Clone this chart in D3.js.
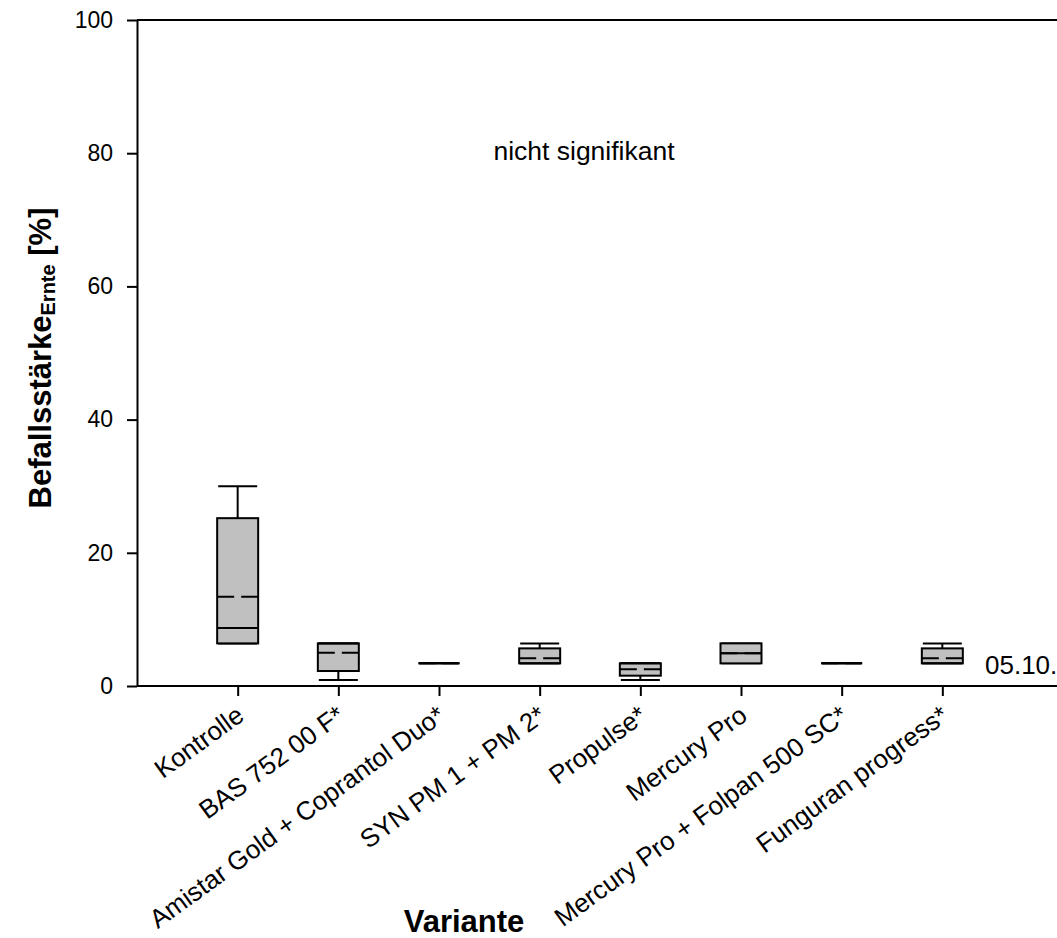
<!DOCTYPE html>
<html>
<head>
<meta charset="utf-8">
<script src="https://cdn.jsdelivr.net/npm/d3@7"></script>
<style>
  html, body { margin: 0; padding: 0; background: #fff; }
  svg { display: block; font-family: Arial, "Liberation Sans", sans-serif; }
</style>
</head>
<body>
<svg id="chart" width="1057" height="938"></svg>
<script>
// ---- data ----
const categories = ["Kontrolle", "BAS 752 00 F*", "Amistar Gold + Coprantol Duo*", "SYN PM 1 + PM 2*",
  "Propulse*", "Mercury Pro", "Mercury Pro + Folpan 500 SC*", "Funguran progress*"];
const whiskerLow  = [6.4, 0.9, 3.4, 3.4, 0.9, 3.4, 3.4, 3.4];
const q1          = [6.4, 2.25, 3.4, 3.4, 1.55, 3.4, 3.4, 3.4];
const median      = [8.7, 6.4, 3.4, 3.4, 3.4, 4.9, 3.4, 3.4];
const q3          = [25.2, 6.4, 3.4, 5.65, 3.4, 6.4, 3.4, 5.65];
const whiskerHigh = [30, 6.4, 3.4, 6.4, 3.4, 6.4, 3.4, 6.4];
const mean        = [13.4, 5.0, 3.4, 4.15, 2.5, 4.9, 3.4, 4.15];
const yTicks = [0, 20, 40, 60, 80, 100];
const annotation = "nicht signifikant";
const dateLabel = "05.10.";

(function () {
const rows = categories.map((c, i) => ({
  cat: c, lo: whiskerLow[i], q1: q1[i], med: median[i], q3: q3[i], hi: whiskerHigh[i], mean: mean[i]
}));

const svg = d3.select("#chart");
const mLeft = 137, mTop = 20, mBottom = 686, mRight = 1043;

const x = d3.scalePoint().domain(categories).range([mLeft, mRight]).padding(1);
const y = d3.scaleLinear().domain([0, 100]).range([mBottom, mTop]);

const boxW = 41, capW = 39;

// frame top line
svg.append("line").attr("x1", mLeft).attr("x2", 1060).attr("y1", y(100)).attr("y2", y(100))
  .attr("stroke", "#000").attr("stroke-width", 2);

// y axis
const yAxis = svg.append("g").attr("transform", `translate(${mLeft},0)`)
  .call(d3.axisLeft(y).tickValues(yTicks).tickSize(10).tickPadding(14).tickSizeOuter(0));
yAxis.select(".domain").attr("stroke-width", 2);
yAxis.selectAll(".tick line").attr("stroke-width", 2);
yAxis.selectAll(".tick text").attr("font-size", 23).attr("fill", "#000")
  .attr("font-family", "Arial, 'Liberation Sans', sans-serif");

// x axis
const xAxis = svg.append("g").attr("transform", `translate(0,${mBottom})`)
  .call(d3.axisBottom(x).tickSize(10).tickSizeOuter(0).tickFormat(""));
xAxis.select(".domain").attr("d", `M${mLeft},0H1060`).attr("stroke-width", 2);
xAxis.selectAll(".tick line").attr("stroke-width", 2);

// rotated category labels
svg.append("g").selectAll("text").data(categories).join("text")
  .attr("transform", d => `translate(${x(d) + 8},${719}) rotate(-36)`)
  .attr("text-anchor", "end")
  .attr("font-size", 26)
  .attr("fill", "#000")
  .text(d => d);

// boxes
const g = svg.append("g").selectAll("g").data(rows).join("g");
g.append("line").attr("x1", d => x(d.cat)).attr("x2", d => x(d.cat))
  .attr("y1", d => y(d.q3)).attr("y2", d => y(d.hi)).attr("stroke", "#000").attr("stroke-width", 2);
g.append("line").attr("x1", d => x(d.cat) - capW / 2).attr("x2", d => x(d.cat) + capW / 2)
  .attr("y1", d => y(d.hi)).attr("y2", d => y(d.hi)).attr("stroke", "#000").attr("stroke-width", 2);
g.append("line").attr("x1", d => x(d.cat)).attr("x2", d => x(d.cat))
  .attr("y1", d => y(d.q1)).attr("y2", d => y(d.lo)).attr("stroke", "#000").attr("stroke-width", 2);
g.append("line").attr("x1", d => x(d.cat) - capW / 2).attr("x2", d => x(d.cat) + capW / 2)
  .attr("y1", d => y(d.lo)).attr("y2", d => y(d.lo)).attr("stroke", "#000").attr("stroke-width", 2);
g.append("rect").attr("x", d => x(d.cat) - boxW / 2).attr("width", boxW)
  .attr("y", d => y(d.q3)).attr("height", d => y(d.q1) - y(d.q3))
  .attr("fill", "#c0c0c0").attr("stroke", "#000").attr("stroke-width", 2);
g.append("line").attr("x1", d => x(d.cat) - boxW / 2).attr("x2", d => x(d.cat) + boxW / 2)
  .attr("y1", d => y(d.med)).attr("y2", d => y(d.med)).attr("stroke", "#000").attr("stroke-width", 2);
g.append("line").attr("x1", d => x(d.cat) - boxW / 2).attr("x2", d => x(d.cat) + boxW / 2)
  .attr("y1", d => y(d.mean)).attr("y2", d => y(d.mean)).attr("stroke", "#000").attr("stroke-width", 2)
  .attr("stroke-dasharray", "17,7,17");

// annotations
svg.append("text").attr("x", 584).attr("y", 160).attr("text-anchor", "middle")
  .attr("font-size", 26.5).attr("fill", "#000").text(annotation);
svg.append("text").attr("x", 985).attr("y", 674).attr("text-anchor", "start")
  .attr("font-size", 26).attr("fill", "#000").text(dateLabel);

// axis titles
const yt = svg.append("text").attr("transform", `translate(51,358) rotate(-90)`)
  .attr("text-anchor", "middle").attr("font-weight", "bold").attr("font-size", 31).attr("fill", "#000");
yt.append("tspan").text("Befallsstärke");
yt.append("tspan").attr("font-size", 20).attr("dy", 4).text("Ernte");
yt.append("tspan").attr("dy", -4).text(" [%]");

svg.append("text").attr("x", 464).attr("y", 932).attr("text-anchor", "middle")
  .attr("font-weight", "bold").attr("font-size", 31).attr("fill", "#000").text("Variante");
})();
</script>
</body>
</html>
